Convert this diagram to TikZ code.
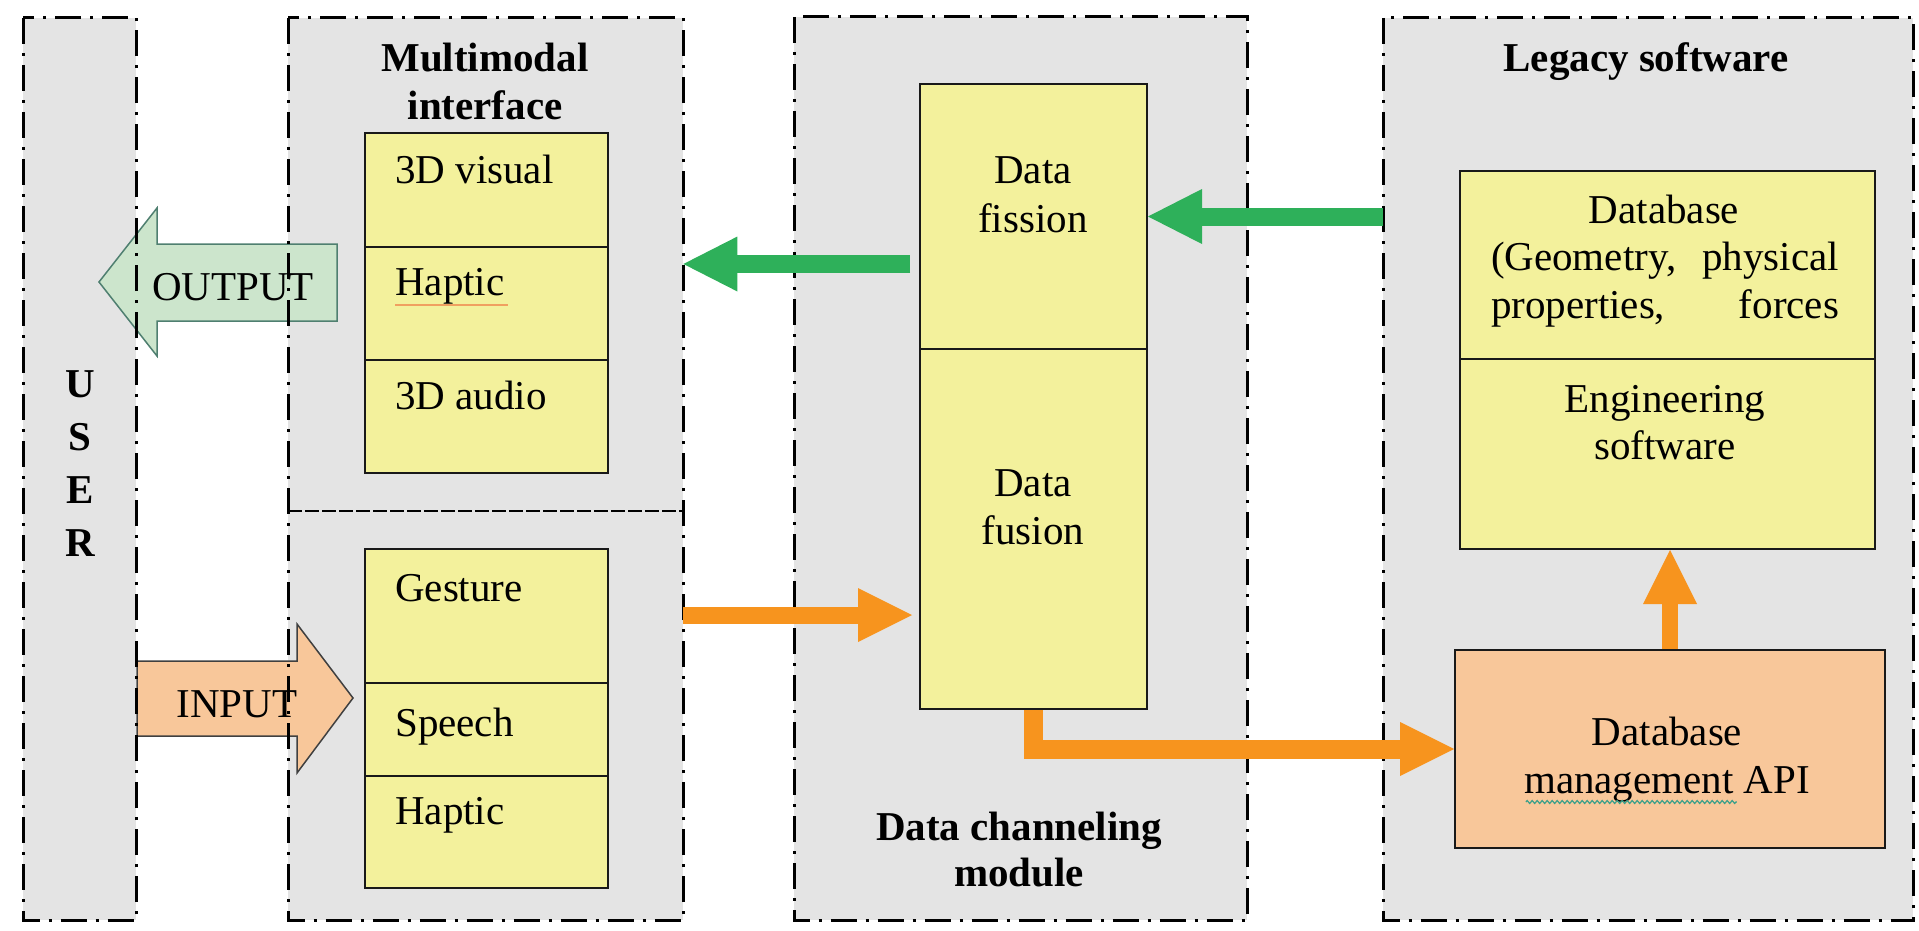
\documentclass[tikz,border=0pt]{standalone}
\usepackage{fontspec}
\setmainfont{Liberation Serif}
\usetikzlibrary{arrows.meta,calc,decorations.pathmorphing}

\definecolor{panelgray}{HTML}{E4E4E4}
\definecolor{boxyellow}{HTML}{F3F19C}
\definecolor{peach}{HTML}{F8C79A}
\definecolor{mint}{HTML}{CCE5CC}
\definecolor{mintedge}{HTML}{4F7F70}
\definecolor{flowgreen}{HTML}{2EB05A}
\definecolor{floworange}{HTML}{F7941E}
\definecolor{spellred}{HTML}{F0A060}
\definecolor{spellgreen}{HTML}{3AA08A}

\newcommand{\diagfont}{\fontsize{41pt}{48pt}\selectfont}

\tikzset{
  panel/.style={fill=panelgray, draw=none, inner sep=0pt, anchor=north west},
  panelborder/.style={draw=black, line width=3pt,
    dash pattern=on 26pt off 9pt on 3pt off 9pt},
  divider/.style={draw=black, line width=2.5pt, dash pattern=on 14pt off 3pt},
  cell/.style={draw=black!90, line width=2pt, fill=boxyellow, inner sep=0pt,
    anchor=north west},
  apicell/.style={cell, fill=peach},
  txt/.style={font=\diagfont, inner sep=0pt, anchor=base},
  ltxt/.style={txt, anchor=base west},
  ttl/.style={txt, font=\diagfont\bfseries},
  garrow/.style={draw=flowgreen, line width=18pt,
    -{Triangle[length=54pt,width=55pt,line width=0pt]}},
  oarrow/.style={draw=floworange, line width=17pt, line join=miter,
    -{Triangle[length=54pt,width=54pt,line width=0pt]}},
  blockout/.style={fill=mint, draw=mintedge, line width=1.5pt, line join=miter},
  blockin/.style={fill=peach, draw=black!75, line width=1.5pt, line join=miter},
}

\begin{document}
\begin{tikzpicture}[x=1pt, y=-1pt]
\useasboundingbox (0,0) rectangle (1919,931);

% grey panels
\node[panel, minimum width=113pt, minimum height=902pt] (user) at (23,18) {};
\node[panel, minimum width=395pt, minimum height=902pt] (mm) at (288,18) {};
\node[panel, minimum width=453pt, minimum height=903pt] (dc) at (794,17) {};
\node[panel, minimum width=530pt, minimum height=902pt] (leg) at (1383,18) {};

% OUTPUT / INPUT block arrows
\filldraw[blockout] (337,244) -- (157,244) -- (157,208) -- (99,282)
  -- (157,356) -- (157,321) -- (337,321) -- cycle;
\filldraw[blockin] (137,661) -- (297,661) -- (297,624) -- (353,698)
  -- (297,773) -- (297,736) -- (137,736) -- cycle;
\node[txt] (outtxt) at (233,300) {OUTPUT};
\node[txt] (intxt) at (237,717) {INPUT};

% panel borders
\draw[panelborder] (user.north west) rectangle (user.south east);
\draw[panelborder] (mm.north west) rectangle (mm.south east);
\draw[panelborder] (dc.north west) rectangle (dc.south east);
\draw[panelborder] (leg.north west) rectangle (leg.south east);
\coordinate (mmsplit) at (0,511);
\draw[divider] (mm.west |- mmsplit) -- (mm.east |- mmsplit);

% USER
\node[ttl] (u1) at (80,397) {U};
\node[ttl] (u2) at (80,450) {S};
\node[ttl] (u3) at (80,503) {E};
\node[ttl] (u4) at (80,556) {R};

% multimodal interface
\node[ttl] (mmt1) at (485,72) {Multimodal};
\node[ttl] (mmt2) at (485,120) {interface};
\node[cell, minimum width=243pt, minimum height=114pt] (vis) at (364,132) {};
\node[cell, minimum width=243pt, minimum height=113pt] (hapo) at (364,246) {};
\node[cell, minimum width=243pt, minimum height=113pt] (aud) at (364,359) {};
\node[cell, minimum width=243pt, minimum height=134pt] (ges) at (364,548) {};
\node[cell, minimum width=243pt, minimum height=93pt] (spe) at (364,682) {};
\node[cell, minimum width=243pt, minimum height=112pt] (hapi) at (364,775) {};
\node[ltxt] (vistxt) at (395,183) {3D visual};
\node[ltxt] (hapotxt) at (395,295) {Haptic};
\node[ltxt] (audtxt) at (395,409) {3D audio};
\node[ltxt] (gestxt) at (395,601) {Gesture};
\node[ltxt] (spetxt) at (395,736) {Speech};
\node[ltxt] (hapitxt) at (395,824) {Haptic};
\draw[spellred, line width=1.5pt] ($(hapotxt.base west)+(0,10)$) -- +(113,0);

% data channeling module
\node[cell, minimum width=227pt, minimum height=265pt] (fis) at (919,83) {};
\node[cell, minimum width=227pt, minimum height=360pt] (fus) at (919,348) {};
\node[txt] (fist1) at (1033,183) {Data};
\node[txt] (fist2) at (1033,232) {fission};
\node[txt] (fust1) at (1033,496) {Data};
\node[txt] (fust2) at (1033,544) {fusion};
\node[ttl] (dct1) at (1019,840) {Data channeling};
\node[ttl] (dct2) at (1019,886) {module};

% legacy software
\node[ttl] (legt) at (1646,72) {Legacy software};
\node[cell, minimum width=415pt, minimum height=188pt] (db) at (1459,170) {};
\node[cell, minimum width=415pt, minimum height=190pt] (eng) at (1459,358) {};
\node[apicell, minimum width=430pt, minimum height=198pt] (api) at (1454,649) {};
\node[txt] (dbt1) at (1664,223) {Database};
\node[txt] (dbt2) at (1665,270) {\hbox to 348pt{(Geometry,\hfill physical}};
\node[txt] (dbt3) at (1665,318) {\hbox to 348pt{properties,\hfill forces}};
\node[txt] (engt1) at (1665,412) {Engineering};
\node[txt] (engt2) at (1665,459) {software};
\node[txt] (apit1) at (1667,745) {Database};
\node[txt] (apit2) at (1667,793) {management API};
\draw[spellgreen, line width=1.2pt, decorate,
  decoration={zigzag, amplitude=1.5pt, segment length=5pt}]
  ($(apit2.base west)+(2,9)$) -- +(211,0);

% data flow
\coordinate (g1) at (0,264);
\coordinate (o1) at (0,615);
\draw[garrow] ($(fis.west |- g1)+(-9,0)$) -- (mm.east |- g1);
\draw[garrow] (leg.west |- fis.east) -- (fis.east);
\draw[oarrow] (mm.east |- o1) -- ($(fus.west |- o1)+(-7,0)$);
\draw[oarrow, line width=19pt] (fus.south) |- (api.west);
\draw[oarrow, line width=16pt] (api.north) -- (api.north |- eng.south);
\end{tikzpicture}
\end{document}
